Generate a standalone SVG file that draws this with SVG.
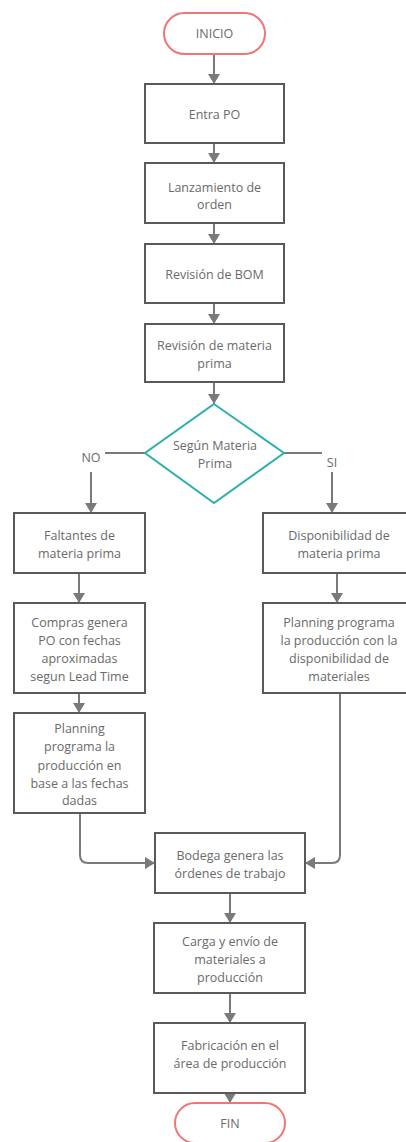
<svg xmlns="http://www.w3.org/2000/svg" width="406" height="1142" viewBox="0 0 406 1142">
  <defs>
    <style>
      .box { fill: #ffffff; stroke: #5a5a5a; stroke-width: 2; }
      .term { fill: #ffffff; stroke: #f07575; stroke-width: 2; }
      .dec { fill: #ffffff; stroke: #2bb0ad; stroke-width: 2; }
      .lbl { font-family: "Open Sans", "Liberation Sans", sans-serif; font-size: 12.5px; fill: #6a6a6a; text-anchor: middle; dominant-baseline: central; }
      .conn { fill: none; stroke: #7a7a7a; stroke-width: 2; }
      .arr { marker-end: url(#head); }
    </style>
    <marker id="head" viewBox="0 0 10 12" refX="10" refY="6" markerWidth="10" markerHeight="12" markerUnits="userSpaceOnUse" orient="auto">
      <path d="M0,0 L10,6 L0,12 z" fill="#7a7a7a"/>
    </marker>
  </defs>
  <rect width="406" height="1142" fill="#ffffff"/>

  <!-- connectors -->
  <g id="connectors">
    <path class="conn arr" d="M214,54 V84"/>
    <path class="conn arr" d="M214,143 V163"/>
    <path class="conn arr" d="M214,223 V244"/>
    <path class="conn arr" d="M214,303 V324"/>
    <path class="conn arr" d="M214,382 V404"/>
    <!-- NO branch -->
    <path class="conn" d="M145,453 H105"/>
    <path class="conn arr" d="M91,472 V513"/>
    <!-- SI branch -->
    <path class="conn" d="M284,453 H322"/>
    <path class="conn arr" d="M332,472 V513"/>
    <!-- left column -->
    <path class="conn arr" d="M79,573 V603"/>
    <path class="conn arr" d="M79,693 V713"/>
    <path class="conn arr" d="M80,813 V855 Q80,863 88,863 H155"/>
    <!-- right column -->
    <path class="conn arr" d="M337,573 V603"/>
    <path class="conn arr" d="M340,693 V855 Q340,863 332,863 H305"/>
    <!-- lower trunk -->
    <path class="conn arr" d="M230,893 V923"/>
    <path class="conn arr" d="M230,993 V1023"/>
    <path class="conn arr" d="M230,1093 V1103"/>
    <text class="lbl" x="91" y="457">NO</text>
    <text class="lbl" x="332" y="462">SI</text>
  </g>

  <g id="inicio">
    <rect class="term" x="164" y="13" width="101" height="41" rx="20.5"/>
    <text class="lbl" x="214.5" y="33.5">INICIO</text>
  </g>

  <g id="entra-po">
    <rect class="box" x="145" y="84" width="139" height="59"/>
    <text class="lbl" x="214.5" y="114">Entra PO</text>
  </g>

  <g id="lanzamiento">
    <rect class="box" x="145" y="163" width="139" height="60"/>
    <text class="lbl" x="214.5" y="187">Lanzamiento de</text>
    <text class="lbl" x="214.5" y="204">orden</text>
  </g>

  <g id="revision-bom">
    <rect class="box" x="145" y="244" width="139" height="59"/>
    <text class="lbl" x="214.5" y="274">Revisión de BOM</text>
  </g>

  <g id="revision-mp">
    <rect class="box" x="145" y="324" width="139" height="58"/>
    <text class="lbl" x="214.5" y="345">Revisión de materia</text>
    <text class="lbl" x="214.5" y="363">prima</text>
  </g>

  <g id="decision">
    <polygon class="dec" points="214,404 284,453 214,503 145,453"/>
    <text class="lbl" x="215" y="445">Según Materia</text>
    <text class="lbl" x="215" y="463">Prima</text>
  </g>

  <g id="faltantes">
    <rect class="box" x="14" y="513" width="131" height="60"/>
    <text class="lbl" x="79.5" y="535">Faltantes de</text>
    <text class="lbl" x="79.5" y="553">materia prima</text>
  </g>

  <g id="compras">
    <rect class="box" x="14" y="603" width="131" height="90"/>
    <text class="lbl" x="79.5" y="622">Compras genera</text>
    <text class="lbl" x="79.5" y="640">PO con fechas</text>
    <text class="lbl" x="79.5" y="658">aproximadas</text>
    <text class="lbl" x="79.5" y="676.5">segun Lead Time</text>
  </g>

  <g id="planning-left">
    <rect class="box" x="14" y="713" width="131" height="100"/>
    <text class="lbl" x="79.5" y="728">Planning</text>
    <text class="lbl" x="79.5" y="746.5">programa la</text>
    <text class="lbl" x="79.5" y="765">producción en</text>
    <text class="lbl" x="79.5" y="783">base a las fechas</text>
    <text class="lbl" x="79.5" y="800.5">dadas</text>
  </g>

  <g id="disponibilidad">
    <rect class="box" x="263" y="513" width="152" height="60"/>
    <text class="lbl" x="339" y="535">Disponibilidad de</text>
    <text class="lbl" x="339" y="553">materia prima</text>
  </g>

  <g id="planning-right">
    <rect class="box" x="263" y="603" width="152" height="90"/>
    <text class="lbl" x="339" y="622">Planning programa</text>
    <text class="lbl" x="339" y="640">la producción con la</text>
    <text class="lbl" x="339" y="658">disponibilidad de</text>
    <text class="lbl" x="339" y="676.5">materiales</text>
  </g>

  <g id="bodega">
    <rect class="box" x="155" y="833" width="150" height="60"/>
    <text class="lbl" x="230" y="855">Bodega genera las</text>
    <text class="lbl" x="230" y="873">órdenes de trabajo</text>
  </g>

  <g id="carga">
    <rect class="box" x="154" y="923" width="151" height="70"/>
    <text class="lbl" x="230" y="941.5">Carga y envío de</text>
    <text class="lbl" x="230" y="959.5">materiales a</text>
    <text class="lbl" x="230" y="977">producción</text>
  </g>

  <g id="fabricacion">
    <rect class="box" x="154" y="1023" width="151" height="70"/>
    <text class="lbl" x="230" y="1045">Fabricación en el</text>
    <text class="lbl" x="230" y="1063">área de producción</text>
  </g>

  <g id="fin">
    <rect class="term" x="175" y="1103" width="110" height="40" rx="20"/>
    <text class="lbl" x="230" y="1123">FIN</text>
  </g>
</svg>
